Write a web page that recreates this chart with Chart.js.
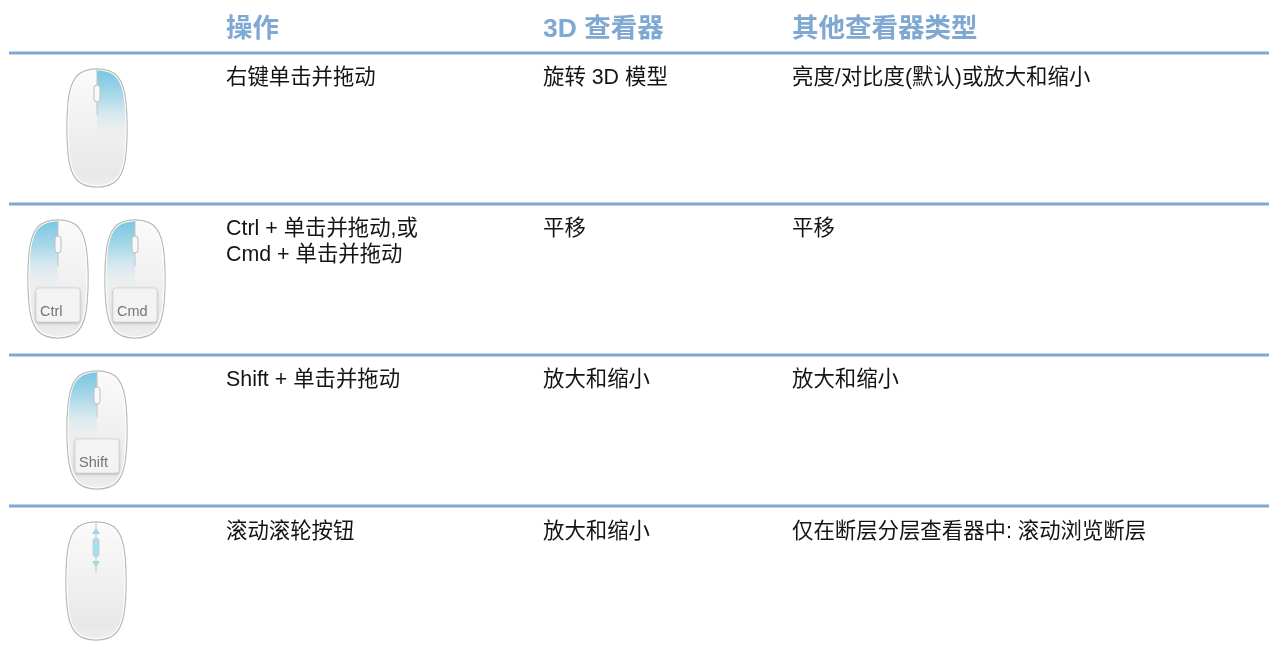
<!DOCTYPE html>
<html lang="zh-CN">
<head>
<meta charset="utf-8">
<title>鼠标操作</title>
<script src="https://cdn.jsdelivr.net/npm/chart.js@4/dist/chart.umd.js"></script>
<style>
  html, body { margin: 0; padding: 0; background: #fff; }
  canvas { display: block; }
</style>
</head>
<body>
<canvas id="chart" width="1269" height="653"></canvas>
<script>
// table content
const headers = ['操作', '3D 查看器', '其他查看器类型'];
const actions = [['右键单击并拖动'], ['Ctrl + 单击并拖动,或', 'Cmd + 单击并拖动'], ['Shift + 单击并拖动'], ['滚动滚轮按钮']];
const viewer3d = ['旋转 3D 模型', '平移', '放大和缩小', '放大和缩小'];
const otherViewers = ['亮度/对比度(默认)或放大和缩小', '平移', '放大和缩小', '仅在断层分层查看器中: 滚动浏览断层'];

// layout on the page-sized scales
const columnX = [226, 543, 792];
const headerY = 30;
const rowTextY = [78, 229, 380, 532];
const lineGap = 26;
const ruleY = [53, 204, 355, 506];
const ruleX = [9, 1269];

// mouse icons
const iconX = [97, 58, 135, 97, 96];
const iconY = [128, 279, 279, 430, 581];
const iconKinds = ['right', 'left', 'left', 'left', 'wheel'];
const keyNames = ['', 'Ctrl', 'Cmd', 'Shift', ''];

const BLUE = '#7fa8d3';
const bodyFont = '21.4px "Liberation Sans", "Noto Sans CJK SC", sans-serif';
const headFont = 'bold 26.5px "Liberation Sans", "Noto Sans CJK SC", sans-serif';

function mouseOutline(c, w, h) {
  const m = 2;
  const W = w - m * 2, H = h - m * 2;
  const px = v => m + v * W, py = v => m + v * H;
  c.beginPath();
  c.moveTo(px(0.5), py(0));
  c.bezierCurveTo(px(0.2), py(0), px(0.05), py(0.07), px(0.015), py(0.3));
  c.bezierCurveTo(px(-0.005), py(0.42), px(-0.005), py(0.58), px(0.015), py(0.7));
  c.bezierCurveTo(px(0.05), py(0.93), px(0.2), py(1), px(0.5), py(1));
  c.bezierCurveTo(px(0.8), py(1), px(0.95), py(0.93), px(0.985), py(0.7));
  c.bezierCurveTo(px(1.005), py(0.58), px(1.005), py(0.42), px(0.985), py(0.3));
  c.bezierCurveTo(px(0.95), py(0.07), px(0.8), py(0), px(0.5), py(0));
  c.closePath();
}

function makeIcon(kind, hasKey) {
  const w = 64, h = 122, cx = w / 2;
  const cv = document.createElement('canvas');
  cv.width = w; cv.height = h;
  const c = cv.getContext('2d');
  c.filter = 'blur(0.4px)';

  mouseOutline(c, w, h);
  const g = c.createLinearGradient(0, 0, 0, h);
  g.addColorStop(0, '#fbfbfb');
  g.addColorStop(0.88, '#e8e8e8');
  g.addColorStop(1, '#f0f0f0');
  c.fillStyle = g;
  c.fill();
  c.strokeStyle = '#bababa';
  c.lineWidth = 1.3;
  c.stroke();

  // white inner edge
  c.save();
  c.translate(cx, h / 2);
  c.scale(0.96, 0.98);
  c.translate(-cx, -h / 2);
  mouseOutline(c, w, h);
  c.strokeStyle = '#fdfdfd';
  c.lineWidth = 1.2;
  c.stroke();
  c.restore();

  if (kind !== 'wheel') {
    c.save();
    c.translate(cx, h / 2);
    c.scale(0.95, 0.975);
    c.translate(-cx, -h / 2);
    mouseOutline(c, w, h);
    c.restore();
    c.save();
    c.clip();
    const b = c.createLinearGradient(0, 3, 0, 72);
    b.addColorStop(0, '#78c6e2');
    b.addColorStop(0.4, '#addae9');
    b.addColorStop(1, 'rgba(226,236,241,0)');
    c.fillStyle = b;
    if (kind === 'right') c.fillRect(cx, 0, cx, 74);
    else c.fillRect(0, 0, cx, 74);
    c.restore();
  }

  // seam down the middle
  c.strokeStyle = '#c4c4c4';
  c.lineWidth = 1;
  c.beginPath();
  c.moveTo(cx, 2);
  c.lineTo(cx, kind === 'wheel' ? 52 : 48);
  c.stroke();

  // wheel
  c.beginPath();
  if (kind === 'wheel') {
    c.roundRect(cx - 3, 18, 6, 19, 3);
    c.fillStyle = '#a9dcec';
    c.strokeStyle = '#bcd5de';
  } else {
    c.roundRect(cx - 3, 18, 6, 17, 3);
    c.fillStyle = '#f8f8f8';
    c.strokeStyle = '#bdbdbd';
  }
  c.fill();
  c.stroke();

  if (kind === 'wheel') {
    c.fillStyle = '#a5d3e2';
    c.beginPath();
    c.moveTo(cx, 8); c.lineTo(cx + 4, 14); c.lineTo(cx - 4, 14);
    c.closePath();
    c.fill();
    c.beginPath();
    c.moveTo(cx, 47); c.lineTo(cx + 4, 41); c.lineTo(cx - 4, 41);
    c.closePath();
    c.fill();
  }

  if (hasKey) {
    c.save();
    c.shadowColor = 'rgba(0,0,0,0.3)';
    c.shadowBlur = 3;
    c.shadowOffsetY = 1;
    c.beginPath();
    c.roundRect(10, 70, 44, 34, 3);
    c.fillStyle = '#f3f3f3';
    c.fill();
    c.restore();
    c.strokeStyle = '#d4d4d4';
    c.lineWidth = 0.8;
    c.stroke();
  }
  return cv;
}

const iconImages = iconKinds.map((k, i) => makeIcon(k, keyNames[i] !== ''));

// table text and key captions, placed through the chart scales
const tableText = {
  id: 'tableText',
  afterDatasetsDraw(chart) {
    const { ctx, scales: { x, y } } = chart;
    ctx.save();
    ctx.textBaseline = 'middle';
    ctx.textAlign = 'left';

    ctx.font = headFont;
    ctx.fillStyle = BLUE;
    headers.forEach((t, i) => ctx.fillText(t, x.getPixelForValue(columnX[i]), y.getPixelForValue(headerY)));

    ctx.font = bodyFont;
    ctx.fillStyle = '#141414';
    rowTextY.forEach((ry, r) => {
      actions[r].forEach((t, l) => ctx.fillText(t, x.getPixelForValue(columnX[0]), y.getPixelForValue(ry + l * lineGap)));
      ctx.fillText(viewer3d[r], x.getPixelForValue(columnX[1]), y.getPixelForValue(ry));
      ctx.fillText(otherViewers[r], x.getPixelForValue(columnX[2]), y.getPixelForValue(ry));
    });

    ctx.font = '14.5px "Liberation Sans", sans-serif';
    ctx.fillStyle = '#757575';
    keyNames.forEach((t, i) => {
      if (t) ctx.fillText(t, x.getPixelForValue(iconX[i] - 18), y.getPixelForValue(iconY[i] + 33));
    });
    ctx.restore();
  }
};

const ruleSets = ruleY.map(v => ({
  type: 'line',
  data: ruleX.map(px => ({ x: px, y: v })),
  borderColor: BLUE,
  borderWidth: 3,
  pointRadius: 0,
  fill: false
}));

new Chart(document.getElementById('chart'), {
  type: 'scatter',
  data: {
    datasets: [
      ...ruleSets,
      {
        data: iconX.map((v, i) => ({ x: v, y: iconY[i] })),
        pointStyle: iconImages,
        pointRadius: 30
      }
    ]
  },
  options: {
    responsive: false,
    animation: false,
    events: [],
    layout: { padding: 0, autoPadding: false },
    plugins: { legend: { display: false }, tooltip: { enabled: false } },
    scales: {
      x: { type: 'linear', min: 0, max: 1269, display: false },
      y: { type: 'linear', min: 0, max: 653, reverse: true, display: false }
    }
  },
  plugins: [tableText]
});
</script>
</body>
</html>
